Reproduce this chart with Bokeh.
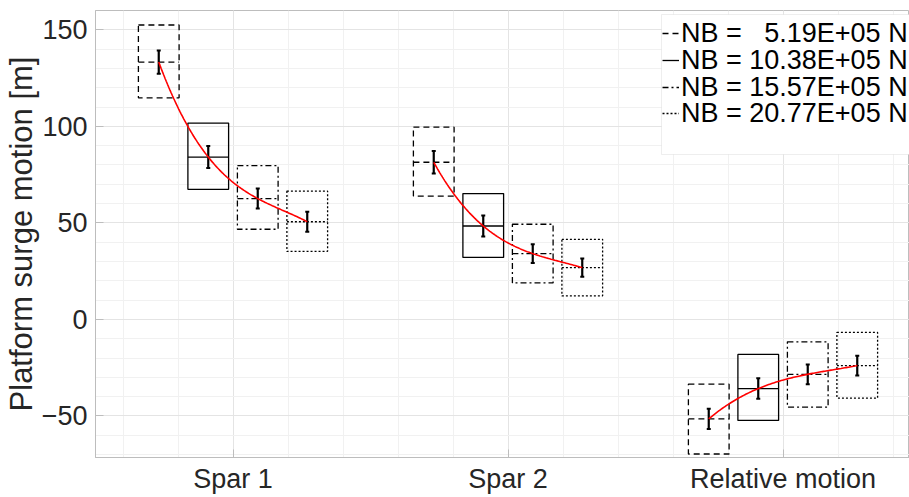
import numpy as np
from bokeh.plotting import figure
from bokeh.models import (ColumnDataSource, FixedTicker, Legend, LegendItem,
                          Whisker, TeeHead, Range1d, BoxAnnotation)
from bokeh.embed import file_html
from bokeh.resources import INLINE

# ---------------- data ----------------
categories = ["Spar 1", "Spar 2", "Relative motion"]
cat_pos = [1, 2, 3]
series_labels = ["NB = \u00a0\u00a05.19E+05 N", "NB = 10.38E+05 N",
                 "NB = 15.57E+05 N", "NB = 20.77E+05 N"]
series_offsets = [-0.27, -0.09, 0.09, 0.27]

# centre value (median line / error-bar centre) per series, over the 3 categories
center_nb1 = [133.3, 81.4, -51.5]
center_nb2 = [84.1, 48.4, -35.8]
center_nb3 = [62.6, 34.1, -28.4]
center_nb4 = [50.6, 26.8, -23.9]

# box upper / lower edges
box_top_nb1 = [152.5, 99.6, -33.5]
box_bot_nb1 = [114.8, 63.9, -69.7]
box_top_nb2 = [101.7, 65.2, -18.1]
box_bot_nb2 = [67.4, 32.1, -52.3]
box_top_nb3 = [79.7, 49.3, -11.6]
box_bot_nb3 = [46.7, 18.9, -45.4]
box_top_nb4 = [66.5, 41.5, -6.7]
box_bot_nb4 = [35.3, 12.2, -40.7]

# error-bar half lengths
err_nb1 = [6.0, 5.8, 5.3]
err_nb2 = [5.7, 5.4, 5.3]
err_nb3 = [5.2, 4.9, 5.1]
err_nb4 = [5.2, 4.7, 5.1]

y_ticks = [-50, 0, 50, 100, 150]

centers = [center_nb1, center_nb2, center_nb3, center_nb4]
tops = [box_top_nb1, box_top_nb2, box_top_nb3, box_top_nb4]
bots = [box_bot_nb1, box_bot_nb2, box_bot_nb3, box_bot_nb4]
errs = [err_nb1, err_nb2, err_nb3, err_nb4]

# ---------------- styles ----------------
FONT = "Liberation Sans"
TXT = "#262626"
AX = "#bdbdbd"
BOX_HALF = 0.074
dashes = ["6 4", "solid", "6 3 2 3", "2 2"]

p = figure(width=909, height=497, output_backend="svg", toolbar_location=None,
           x_range=Range1d(0.5, 3.46), y_range=Range1d(-71.5, 160),
           min_border_left=95, min_border_right=0, min_border_top=10,
           min_border_bottom=40)
p.background_fill_color = "white"
p.border_fill_color = "white"
p.outline_line_color = AX
p.outline_line_width = 1

# grids
p.xaxis.ticker = FixedTicker(ticks=cat_pos,
                             minor_ticks=list(np.round(np.arange(0.6, 3.5, 0.2), 2)))
p.yaxis.ticker = FixedTicker(ticks=y_ticks,
                             minor_ticks=list(range(-70, 161, 10)))
for g in (p.xgrid, p.ygrid):
    g.grid_line_color = "#e4e4e4"
    g.grid_line_width = 1
    g.minor_grid_line_color = "#f1f1f1"
    g.minor_grid_line_width = 1

for ax in (p.xaxis, p.yaxis):
    ax.axis_line_color = AX
    ax.major_tick_line_color = AX
    ax.major_tick_in = 8
    ax.major_tick_out = 0
    ax.minor_tick_line_color = None
    ax.major_label_text_font = FONT
    ax.major_label_text_font_size = "27px"
    ax.major_label_text_color = TXT

p.xaxis.major_label_overrides = {c: n for c, n in zip(cat_pos, categories)}
p.xaxis.major_label_standoff = 2
p.yaxis.major_label_standoff = 4
p.yaxis.axis_label = "Platform surge motion [m]"
p.yaxis.axis_label_text_font = FONT
p.yaxis.axis_label_text_font_size = "31px"
p.yaxis.axis_label_text_font_style = "normal"
p.yaxis.axis_label_text_color = TXT
p.yaxis.axis_label_standoff = 0

# boxes + median lines
median_renderers = []
for i in range(4):
    xs = [c + series_offsets[i] for c in cat_pos]
    src = ColumnDataSource(dict(
        left=[x - BOX_HALF for x in xs], right=[x + BOX_HALF for x in xs],
        top=tops[i], bottom=bots[i], mid=centers[i], x=xs))
    p.quad(left="left", right="right", top="top", bottom="bottom", source=src,
           fill_alpha=0, line_color="black", line_width=1.3, line_dash=dashes[i])
    r = p.segment(x0="left", x1="right", y0="mid", y1="mid", source=src,
                  line_color="black", line_width=1.3, line_dash=dashes[i])
    median_renderers.append(r)

# red fit curves through the centres
curve_xs, curve_ys = [], []
for k, c in enumerate(cat_pos):
    px = np.array(series_offsets)
    py = np.array([centers[i][k] for i in range(4)])
    coef = np.polyfit(px, py, 3)
    t = np.linspace(px[0], px[-1], 120)
    curve_xs.append(list(c + t))
    curve_ys.append(list(np.polyval(coef, t)))
p.multi_line(xs=curve_xs, ys=curve_ys, line_color="#ff0000", line_width=1.6)

# error bars
for i in range(4):
    xs = [c + series_offsets[i] for c in cat_pos]
    esrc = ColumnDataSource(dict(
        x=xs, up=[m + e for m, e in zip(centers[i], errs[i])],
        lo=[m - e for m, e in zip(centers[i], errs[i])]))
    w = Whisker(source=esrc, base="x", upper="up", lower="lo",
                line_color="black", line_width=2.2,
                upper_head=TeeHead(size=4, line_width=2, line_color="black"),
                lower_head=TeeHead(size=4, line_width=2, line_color="black"))
    p.add_layout(w)

# legend: frame box + one row per series (screen units, frame-relative)
legend_box = BoxAnnotation(left=566, right=2000, top=443, bottom=303,
                           left_units="screen", right_units="screen",
                           top_units="screen", bottom_units="screen",
                           fill_color="white", fill_alpha=1,
                           line_color="#c8c8c8", line_width=1)
p.add_layout(legend_box)
ROW_H = 31
row_centers = [423.7, 396.7, 369.7, 343.7]   # from frame bottom
for i in range(4):
    lg = Legend(items=[LegendItem(label=series_labels[i], renderers=[median_renderers[i]])],
                location=(567, row_centers[i] - ROW_H / 2),
                label_text_font=FONT, label_text_font_size="27px",
                label_text_color="black", glyph_width=17, glyph_height=20,
                label_standoff=2, spacing=0, padding=0, margin=0,
                border_line_color=None, background_fill_alpha=0)
    p.add_layout(lg)

open("out.html", "w").write(file_html(p, INLINE))
